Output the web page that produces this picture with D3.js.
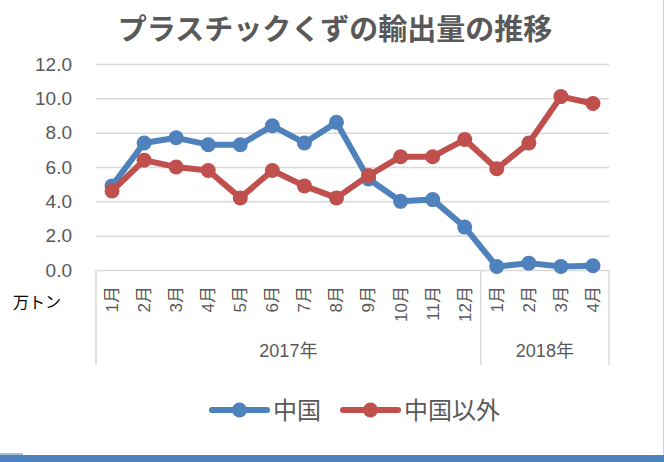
<!DOCTYPE html>
<html>
<head>
<meta charset="utf-8">
<script src="https://cdn.jsdelivr.net/npm/d3@7"></script>
<style>
  body { margin: 0; background: #fff; }
  text { font-family: "Liberation Sans", Arial, "Noto Sans CJK JP", sans-serif; }
</style>
</head>
<body>
<script>
// data
var months = ["1月", "2月", "3月", "4月", "5月", "6月", "7月", "8月", "9月", "10月", "11月", "12月", "1月", "2月", "3月", "4月"];
var years = ["2017年", "2018年"];
var yearCounts = [12, 4];
var china = [4.9, 7.4, 7.7, 7.3, 7.3, 8.4, 7.4, 8.6, 5.3, 4.0, 4.1, 2.5, 0.2, 0.4, 0.2, 0.25];
var others = [4.6, 6.4, 6.0, 5.8, 4.2, 5.8, 4.9, 4.2, 5.5, 6.6, 6.6, 7.6, 5.9, 7.4, 10.1, 9.7];
var yTicks = [0, 2, 4, 6, 8, 10, 12];
var seriesNames = ["中国", "中国以外"];

var W = 664, H = 462;
var MARGIN = { LEFT: 96, RIGHT: 55, TOP: 64, BOTTOM: 192 };
var plotW = W - MARGIN.LEFT - MARGIN.RIGHT;
var plotH = H - MARGIN.TOP - MARGIN.BOTTOM;
var colors = ["#4f81bd", "#c0504d"];
var gridColor = "#d9d9d9";
var textColor = "#595959";

var svg = d3.select("body").append("svg").attr("width", W).attr("height", H);

// title
svg.append("text")
  .attr("x", 335).attr("y", 40)
  .attr("text-anchor", "middle")
  .style("font-family", "'Noto Sans CJK JP', sans-serif")
  .style("font-weight", "bold")
  .style("font-size", "29px")
  .attr("fill", textColor)
  .text("プラスチックくずの輸出量の推移");

var xScale = d3.scaleBand().domain(d3.range(months.length)).range([0, plotW]);
var yScale = d3.scaleLinear().domain([0, 12]).range([plotH, 0]);

var g = svg.append("g").attr("transform", "translate(" + MARGIN.LEFT + "," + MARGIN.TOP + ")");

// grid + y labels
var yAxis = d3.axisLeft(yScale).tickValues(yTicks).tickSize(-plotW).tickPadding(24)
  .tickFormat(d3.format(".1f"));
var ya = g.append("g").attr("class", "yaxis").call(yAxis);
ya.select(".domain").remove();
ya.selectAll("line").attr("stroke", gridColor).attr("stroke-width", 1.5);
ya.selectAll("text").attr("fill", textColor).style("font-size", "19px");

// category axis with month labels
var xAxis = d3.axisBottom(xScale).tickSize(0).tickFormat(function (i) { return months[i]; });
var xa = g.append("g").attr("class", "xaxis").attr("transform", "translate(0," + plotH + ")").call(xAxis);
xa.select(".domain").remove();
xa.selectAll("text")
  .attr("fill", textColor)
  .style("font-size", "17px")
  .attr("text-anchor", "end")
  .attr("transform", "rotate(-90)")
  .attr("x", -16).attr("y", 0).attr("dy", "0.35em");

// group separators and year labels
var axisDepth = 95;
var bounds = [0];
yearCounts.forEach(function (c, i) { bounds.push(bounds[i] + c); });
function edge(k) { return k < months.length ? xScale(k) : plotW; }
bounds.forEach(function (b) {
  g.append("line")
    .attr("x1", edge(b)).attr("x2", edge(b))
    .attr("y1", plotH).attr("y2", plotH + axisDepth)
    .attr("stroke", gridColor).attr("stroke-width", 1.5);
});
years.forEach(function (y, i) {
  g.append("text")
    .attr("x", (edge(bounds[i]) + edge(bounds[i + 1])) / 2)
    .attr("y", plotH + 81)
    .attr("dy", "0.35em")
    .attr("text-anchor", "middle")
    .attr("fill", textColor)
    .style("font-size", "18px")
    .text(y);
});

// unit label
svg.append("text")
  .attr("x", 13).attr("y", 302).attr("dy", "0.35em")
  .style("font-size", "16px")
  .attr("fill", "#000")
  .text("万トン");

// lines
var line = d3.line()
  .x(function (d, i) { return xScale(i) + xScale.bandwidth() / 2; })
  .y(function (d) { return yScale(d); });

[china, others].forEach(function (series, k) {
  var s = g.append("g");
  s.append("path")
    .datum(series)
    .attr("d", line)
    .attr("fill", "none")
    .attr("stroke", colors[k])
    .attr("stroke-width", 6)
    .attr("stroke-linejoin", "round");
  s.selectAll("circle")
    .data(series)
    .enter()
    .append("circle")
    .attr("cx", function (d, i) { return xScale(i) + xScale.bandwidth() / 2; })
    .attr("cy", function (d) { return yScale(d); })
    .attr("r", 7.5)
    .attr("fill", colors[k]);
});

// legend
var legendX = [212, 343];
seriesNames.forEach(function (name, k) {
  var lg = svg.append("g").attr("transform", "translate(" + legendX[k] + ",410)");
  lg.append("line")
    .attr("x1", 0).attr("x2", 55).attr("y1", 0).attr("y2", 0)
    .attr("stroke", colors[k]).attr("stroke-width", 6).attr("stroke-linecap", "round");
  lg.append("circle").attr("cx", 27.5).attr("cy", 0).attr("r", 7.5).attr("fill", colors[k]);
  lg.append("text")
    .attr("x", 61).attr("y", 0).attr("dy", "0.36em")
    .style("font-family", "'Noto Sans CJK JP', sans-serif")
    .style("font-size", "24px")
    .attr("fill", textColor)
    .text(name);
});

// frame bits
svg.append("line").attr("x1", 663.5).attr("x2", 663.5).attr("y1", 0).attr("y2", 455)
  .attr("stroke", "#c6d4e8").attr("stroke-width", 1);
svg.append("rect").attr("x", 0).attr("y", 453).attr("width", 23).attr("height", 2).attr("fill", "#a7bfdd");
svg.append("rect").attr("x", 0).attr("y", 455).attr("width", W).attr("height", 7).attr("fill", "#4f81bd");
</script>
</body>
</html>
